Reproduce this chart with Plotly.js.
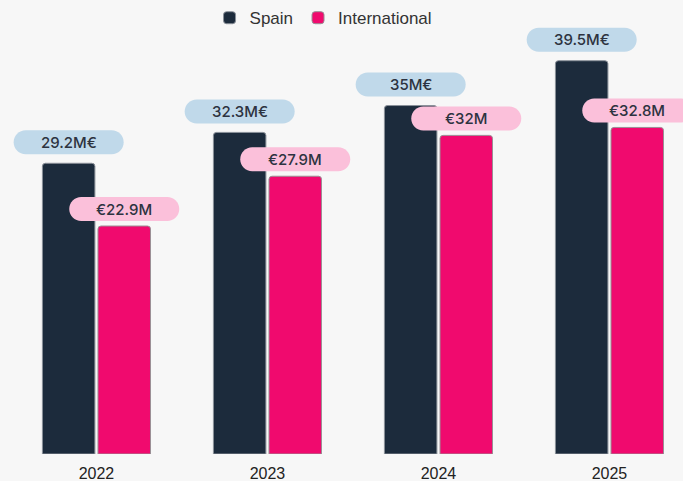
<!DOCTYPE html>
<html>
<head>
<meta charset="utf-8">
<script src="https://cdn.plot.ly/plotly-3.0.1.min.js"></script>
<style>html,body{margin:0;padding:0;background:#f7f7f7;}#chart{width:683px;height:481px;}</style>
</head>
<body>
<div id="chart"></div>
<script>
const years = ['2022', '2023', '2024', '2025'];
const spain = [29.2, 32.3, 35, 39.5];
const international = [22.9, 27.9, 32, 32.8];
const spainLabels = ['29.2M€', '32.3M€', '35M€', '39.5M€'];
const intlLabels = ['€22.9M', '€27.9M', '€32M', '€32.8M'];

const BAR_W = 0.307;
const SPAIN_OFF = -0.316;
const INTL_OFF = 0.009;

const idx = years.map((_, i) => i);

const traces = [
  {
    type: 'bar', name: 'Spain', x: idx, y: spain,
    width: BAR_W, offset: SPAIN_OFF,
    marker: { color: '#1c2b3c', line: { color: '#8a9099', width: 1 } },
    hoverinfo: 'skip'
  },
  {
    type: 'bar', name: 'International', x: idx, y: international,
    width: BAR_W, offset: INTL_OFF,
    marker: { color: '#f00a6e', line: { color: '#9a8f95', width: 1 } },
    hoverinfo: 'skip'
  }
];

function pillPath(yc) {
  const hw = 55, r = 12, k = 0.5523 * r;
  const L = -hw + r, R = hw - r;
  const b = yc - r, t = yc + r;
  return `M ${L},${b} L ${R},${b} C ${R + k},${b} ${hw},${yc - k} ${hw},${yc} ` +
         `C ${hw},${yc + k} ${R + k},${t} ${R},${t} L ${L},${t} ` +
         `C ${L - k},${t} ${-hw},${yc + k} ${-hw},${yc} C ${-hw},${yc - k} ${L - k},${b} ${L},${b} Z`;
}

const shapes = [];
const annotations = [];
const series = [
  { vals: spain, labels: spainLabels, off: SPAIN_OFF, fill: '#c0d9ea', shift: 21 },
  { vals: international, labels: intlLabels, off: INTL_OFF, fill: '#fbc0da', shift: 17 }
];
series.forEach(s => {
  s.vals.forEach((v, i) => {
    const xc = i + s.off + BAR_W / 2;
    shapes.push({
      type: 'path', xref: 'x', yref: 'y',
      xsizemode: 'pixel', ysizemode: 'pixel',
      xanchor: xc, yanchor: v,
      path: pillPath(s.shift),
      fillcolor: s.fill, line: { width: 0 }, layer: 'above'
    });
    annotations.push({
      x: xc, y: v, xref: 'x', yref: 'y',
      text: s.labels[i], showarrow: false,
      yshift: s.shift, yanchor: 'middle', xanchor: 'center',
      font: { family: 'Inter, sans-serif', size: 15, color: '#2d3340', weight: 500 }
    });
  });
});

const layout = {
  width: 683, height: 481,
  margin: { l: 0, r: 0, t: 0, b: 27 },
  paper_bgcolor: '#f7f7f7', plot_bgcolor: '#f7f7f7',
  barmode: 'overlay',
  barcornerradius: 3,
  showlegend: true,
  legend: {
    orientation: 'h', x: 0.4737, xanchor: 'center', y: 0.96, yanchor: 'middle',
    font: { family: 'Liberation Sans, Arial, sans-serif', size: 17, color: '#333' },
    bgcolor: 'rgba(0,0,0,0)'
  },
  xaxis: {
    range: [-0.564, 3.43],
    tickmode: 'array', tickvals: idx, ticktext: years,
    showgrid: false, zeroline: false, showline: false, ticks: '',
    ticklabelstandoff: 8,
    tickfont: { family: 'Liberation Sans, Arial, sans-serif', size: 16, color: '#222' },
    fixedrange: true
  },
  yaxis: {
    range: [0, 45.6],
    showgrid: false, zeroline: false, showline: false,
    showticklabels: false, ticks: '', fixedrange: true
  },
  shapes: shapes,
  annotations: annotations
};

Plotly.newPlot('chart', traces, layout, { displayModeBar: false, staticPlot: true });
</script>
</body>
</html>
